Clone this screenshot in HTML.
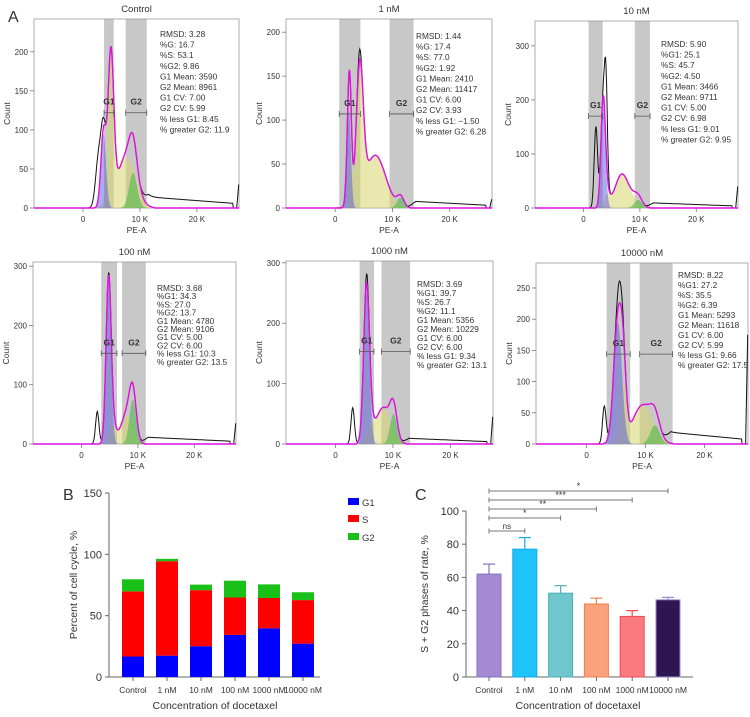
<!DOCTYPE html>
<html><head><meta charset="utf-8"><style>
body{margin:0;background:#fff}
svg{display:block;font-family:"Liberation Sans",Arial,sans-serif}
</style></head><body>
<svg id="fig" width="750" height="717" viewBox="0 0 750 717" xmlns="http://www.w3.org/2000/svg"></svg>
<script>
// ---------- Panel A histogram data (fit parameters, kilo-units) ----------
const histTitles=["Control","1 nM","10 nM","100 nM","1000 nM","10000 nM"];
const yMaxes=[242,215,346,307,303,290];
const yTickSets=[[0,50,100,150,200],[0,50,100,150,200],[0,100,200,300],[0,100,200,300],[0,100,200,300],[0,50,100,150,200,250]];
const g1Mean=[3.6,2.4,3.5,4.8,5.4,5.3], g1H=[95,110,200,270,250,195], g1Sd=[0.45,0.35,0.4,0.45,0.5,0.7];
const s1Mean=[4.9,4.3,4.2,8.0,8.3,6.2], s1H=[190,150,20,50,60,90], s1Sd=[0.5,0.6,0.5,1.0,1.3,0.5];
const s2Mean=[7.6,7.0,6.8,5.5,6.0,9.5], s2H=[65,60,62,30,20,62], s2Sd=[1.6,1.8,1.2,0.6,0.6,1.7];
const s3Mean=[0,2.6,9.0,0,0,0], s3H=[0,50,10,0,0,0], s3Sd=[1,0.3,1.0,1,1,1];
const g2Mean=[8.8,11.4,9.7,9.1,10.1,11.6], g2H=[45,12,15,75,50,30], g2Sd=[0.7,0.6,0.7,0.6,0.6,0.8];
const debMean=[2.7,2.6,2.2,2.8,3.0,3.0], debH=[60,0,150,55,60,60], debSd=[0.5,0.3,0.3,0.3,0.3,0.3];
const bxMean=[4.8,4.2,4.0,5.0,5.5,5.6], bxH=[0,12,150,5,15,35], bxSd=[0.3,0.3,0.25,0.3,0.3,0.5];
const tailH=[15,8,10,12,10,20], spikeH=[30,10,40,35,45,175];
const gateG1=[[3.7,5.4],[0.7,4.4],[0.9,3.4],[3.5,6.3],[4.2,6.7],[3.4,7.4]];
const gateG2=[[7.5,11.2],[9.5,13.7],[9.1,11.8],[7.2,11.4],[8.0,13.0],[9.0,14.6]];
const bracketY=[122,107,170,153,153,144];
const statLines=[
["RMSD: 3.28","%G: 16.7","%S: 53.1","%G2: 9.86","G1 Mean: 3590","G2 Mean: 8961","G1 CV: 7.00","G2 CV: 5.99","% less G1: 8.45","% greater G2: 11.9"],
["RMSD: 1.44","%G: 17.4","%S: 77.0","%G2: 1.92","G1 Mean: 2410","G2 Mean: 11417","G1 CV: 6.00","G2 CV: 3.93","% less G1: \u22121.50","% greater G2: 6.28"],
["RMSD: 5.90","%G1: 25.1","%S: 45.7","%G2: 4.50","G1 Mean: 3466","G2 Mean: 9711","G1 CV: 5.00","G2 CV: 6.98","% less G1: 9.01","% greater G2: 9.95"],
["RMSD: 3.68","%G1: 34.3","%S: 27.0","%G2: 13.7","G1 Mean: 4780","G2 Mean: 9106","G1 CV: 5.00","G2 CV: 6.00","% less G1: 10.3","% greater G2: 13.5"],
["RMSD: 3.69","%G1: 39.7","%S: 26.7","%G2: 11.1","G1 Mean: 5356","G2 Mean: 10229","G1 CV: 6.00","G2 CV: 6.00","% less G1: 9.34","% greater G2: 13.1"],
["RMSD: 8.22","%G1: 27.2","%S: 35.5","%G2: 6.39","G1 Mean: 5293","G2 Mean: 11618","G1 CV: 6.00","G2 CV: 5.99","% less G1: 9.66","% greater G2: 17.5"]];
// layout (not data)
const frames=[[34,19,239,208],[286,19,492,208],[535,21,738,208],[33,262,236,444],[286,261,493,444],[536,263,748,444]];
const statPos=[[160,37,10.6],[416,39,10.6],[661,47,10.6],[157,291,8.2],[417,287,9],[678,278,10]];

// ---------- Panel B ----------
const catsB=["Control","1 nM","10 nM","100 nM","1000 nM","10000 nM"];
const g1Pct=[16.7,17.4,25.1,34.3,39.7,27.2];
const sPct=[53.1,77.0,45.7,30.5,24.7,35.5];
const g2Pct=[9.86,1.92,4.50,13.7,11.1,6.39];
const ticksB=[0,50,100,150];
// ---------- Panel C ----------
const catsC=["Control","1 nM","10 nM","100 nM","1000 nM","10000 nM"];
const rateC=[62,77,50.5,44,36.5,46.5];
const errC=[6,7,4.5,3.5,3.5,1.5];
const ticksC=[0,20,40,60,80,100];
const sigFrom=[0,0,0,0,0], sigTo=[1,2,3,4,5], sigLabel=["ns","*","**","***","*"];

const NS="http://www.w3.org/2000/svg";
const svg=document.getElementById('fig');
function mk(tag,attrs,parent,name,inter){const e=document.createElementNS(NS,tag);for(const k in attrs)e.setAttribute(k,attrs[k]);


(parent||svg).appendChild(e);return e;}
function txt(x,y,s,size,anchor,parent,name,extra){const t=mk('text',Object.assign({x:x,y:y,'font-size':size,'text-anchor':anchor||'start',fill:'#333'},extra||{}),parent,name,false);t.textContent=s;return t;}
function gauss(x,m,h,sd){return h*Math.exp(-((x-m)*(x-m))/(2*sd*sd));}

txt(8,22,"A",16,'start',svg,'panel-a-label');
const XMIN=-8.6,XMAX=27.4;
for(let p=0;p<6;p++){
  const g=mk('g',{},svg,'histogram-'+histTitles[p].replace(/ /g,'-').toLowerCase(),false);
  const [L,T,R,B]=frames[p];
  const xs=v=>L+(v-XMIN)/(XMAX-XMIN)*(R-L);
  const ys=v=>B-v/yMaxes[p]*(B-T);
  [gateG1[p],gateG2[p]].forEach((gt,i)=>{
    mk('rect',{x:xs(gt[0]),y:T,width:xs(gt[1])-xs(gt[0]),height:B-T,fill:'#c8c8c8'},g,i?'g2-gate-band':'g1-gate-band',false);
  });
  mk('rect',{x:L,y:T,width:R-L,height:B-T,fill:'none',stroke:'#999','stroke-width':0.8},g,'plot-frame',false);
  const blue=[],yel=[],grn=[],mag=[],blk=[];
  for(let k=0;k<=360;k++){
    const v=XMIN+k*0.1;
    const b=gauss(v,g1Mean[p],g1H[p],g1Sd[p]);
    const s=gauss(v,s1Mean[p],s1H[p],s1Sd[p])+gauss(v,s2Mean[p],s2H[p],s2Sd[p])+(s3H[p]?gauss(v,s3Mean[p],s3H[p],s3Sd[p]):0);
    const gr=gauss(v,g2Mean[p],g2H[p],g2Sd[p]);
    const fit=b+s+gr;
    let tail=0;const ts=g2Mean[p]+1.2;
    if(v>ts&&v<26.3){const kk=Math.min(1,(v-ts)/1.5);tail=tailH[p]*kk*(1-0.6*(v-ts)/(26.3-ts));}
    let bk=fit+gauss(v,debMean[p],debH[p],debSd[p])+gauss(v,bxMean[p],bxH[p],bxSd[p])+tail;
    if(v<0)bk=0;
    blue.push([v,b]);yel.push([v,s]);grn.push([v,gr]);mag.push([v,fit>0.5?fit:0]);blk.push([v,bk]);
  }
  const area=arr=>'M'+xs(XMIN)+','+ys(0)+arr.map(a=>'L'+xs(a[0]).toFixed(1)+','+ys(Math.min(a[1],yMaxes[p])).toFixed(1)).join('')+'L'+xs(XMAX)+','+ys(0)+'Z';
  const line=arr=>'M'+arr.map(a=>xs(a[0]).toFixed(1)+','+ys(Math.min(a[1],yMaxes[p])).toFixed(1)).join('L');
  mk('path',{d:area(yel),fill:'rgba(215,215,110,0.55)'},g,'s-phase-area',false);
  mk('path',{d:area(blue),fill:'rgba(90,90,220,0.5)'},g,'g1-phase-area',false);
  mk('path',{d:area(grn),fill:'rgba(70,180,70,0.55)'},g,'g2-phase-area',false);
  const bl=blk.slice();bl.push([27.0,0]);bl.push([27.35,spikeH[p]]);
  mk('path',{d:line(bl),fill:'none',stroke:'#111','stroke-width':1},g,'data-histogram-line',false);
  mk('path',{d:line(mag),fill:'none',stroke:'#e010e0','stroke-width':1.4},g,'fit-line',false);
  [gateG1[p],gateG2[p]].forEach((gt,i)=>{
    const by=ys(bracketY[p]);
    mk('path',{d:`M${xs(gt[0])},${by-3}V${by+3}M${xs(gt[0])},${by}H${xs(gt[1])}M${xs(gt[1])},${by-3}V${by+3}`,stroke:'#555','stroke-width':0.8,fill:'none'},g,i?'g2-bracket':'g1-bracket',false);
    txt((xs(gt[0])+xs(gt[1]))/2,by-8,i?'G2':'G1',8.5,'middle',g,i?'g2-label':'g1-label',{'font-weight':'bold'});
  });
  yTickSets[p].forEach(t=>{mk('line',{x1:L-4,x2:L,y1:ys(t),y2:ys(t),stroke:'#777','stroke-width':0.8},g,'y-tick',false);
    txt(L-6,ys(t)+3,String(t),8,'end',g,'y-tick-label');});
  [[0,'0'],[10,'10 K'],[20,'20 K']].forEach(t=>{mk('line',{x1:xs(t[0]),x2:xs(t[0]),y1:B,y2:B+4,stroke:'#777','stroke-width':0.8},g,'x-tick',false);
    txt(xs(t[0]),B+14,t[1],8,'middle',g,'x-tick-label');});
  txt((L+R)/2,T-7,histTitles[p],9.5,'middle',g,'histogram-title');
  txt((L+R)/2,B+25,'PE-A',8.5,'middle',g,'x-axis-title');
  txt(L-24,(T+B)/2,'Count',8.5,'middle',g,'y-axis-title',{transform:`rotate(-90 ${L-24} ${(T+B)/2})`});
  const [sx,sy,sl]=statPos[p];
  statLines[p].forEach((s,i)=>txt(sx,sy+i*sl,s,8.3,'start',g,'stat-line'));
}

// ---------- Panel B ----------
(function(){
  const g=mk('g',{},svg,'panel-b-stacked-bar-chart',false);
  const X0=109,Y0=677,YT=493;
  const y=v=>Y0-v/150*(Y0-YT);
  const xc=i=>133+i*34;
  txt(63,500,'B',16,'start',g,'panel-b-label');
  mk('line',{x1:X0,x2:X0,y1:YT,y2:Y0,stroke:'#666'},g,'y-axis',false);
  mk('line',{x1:X0,x2:320,y1:Y0,y2:Y0,stroke:'#666'},g,'x-axis',false);
  ticksB.forEach(t=>{mk('line',{x1:X0-4,x2:X0,y1:y(t),y2:y(t),stroke:'#666'},g,'y-tick',false);txt(X0-7,y(t)+4,String(t),11,'end',g,'y-tick-label');});
  catsB.forEach((c,i)=>{
    const w=22,x=xc(i)-w/2;
    mk('rect',{x:x,y:y(g1Pct[i]),width:w,height:y(0)-y(g1Pct[i]),fill:'#0000ff'},g,'bar-g1-'+i,false);
    mk('rect',{x:x,y:y(g1Pct[i]+sPct[i]),width:w,height:y(g1Pct[i])-y(g1Pct[i]+sPct[i]),fill:'#ff0000'},g,'bar-s-'+i,false);
    mk('rect',{x:x,y:y(g1Pct[i]+sPct[i]+g2Pct[i]),width:w,height:y(g1Pct[i]+sPct[i])-y(g1Pct[i]+sPct[i]+g2Pct[i]),fill:'#18c018'},g,'bar-g2-'+i,false);
    mk('line',{x1:xc(i),x2:xc(i),y1:Y0,y2:Y0+4,stroke:'#666'},g,'x-tick',false);
    txt(xc(i),693,c,8.5,'middle',g,'x-tick-label');
  });
  txt(215,709,'Concentration of docetaxel',10.5,'middle',g,'x-axis-title');
  txt(77,585,'Percent of cell cycle, %',10.5,'middle',g,'y-axis-title',{transform:'rotate(-90 77 585)'});
  [['G1','#0000ff',502],['S','#ff0000',519],['G2','#18c018',537]].forEach(l=>{
    mk('rect',{x:348,y:l[2]-4,width:11,height:7,fill:l[1]},g,'legend-swatch-'+l[0].toLowerCase(),false);
    txt(362,l[2]+4,l[0],9.5,'start',g,'legend-label-'+l[0].toLowerCase());
  });
})();

// ---------- Panel C ----------
(function(){
  const g=mk('g',{},svg,'panel-c-bar-chart',false);
  const X0=466,Y0=677,YT=511;
  const y=v=>Y0-v/100*(Y0-YT);
  const xc=i=>489+i*35.8;
  const fills=['#a38ad2','#1fc3fb','#6fc6cd','#faa27c','#fa7b7f','#2d1652'];
  const strokes=['#8870c0','#10a8e8','#4fb0b8','#f08050','#f04850','#9a8ad0'];
  txt(415,500,'C',16,'start',g,'panel-c-label');
  mk('line',{x1:X0,x2:X0,y1:YT,y2:Y0,stroke:'#666'},g,'y-axis',false);
  mk('line',{x1:X0,x2:693,y1:Y0,y2:Y0,stroke:'#666'},g,'x-axis',false);
  ticksC.forEach(t=>{mk('line',{x1:X0-4,x2:X0,y1:y(t),y2:y(t),stroke:'#666'},g,'y-tick',false);txt(X0-7,y(t)+4,String(t),11,'end',g,'y-tick-label');});
  catsC.forEach((c,i)=>{
    const w=24,x=xc(i)-w/2;
    mk('line',{x1:xc(i),x2:xc(i),y1:y(rateC[i]),y2:y(rateC[i]+errC[i]),stroke:strokes[i],'stroke-width':1.2},g,'error-bar-'+i,false);
    mk('line',{x1:xc(i)-6,x2:xc(i)+6,y1:y(rateC[i]+errC[i]),y2:y(rateC[i]+errC[i]),stroke:strokes[i],'stroke-width':1.2},g,'error-cap-'+i,false);
    mk('rect',{x:x,y:y(rateC[i]),width:w,height:y(0)-y(rateC[i]),fill:fills[i],stroke:strokes[i],'stroke-width':1},g,'bar-'+i,false);
    mk('line',{x1:xc(i),x2:xc(i),y1:Y0,y2:Y0+4,stroke:'#666'},g,'x-tick',false);
    txt(xc(i),693,c,8.5,'middle',g,'x-tick-label');
  });
  const sigY=[531,518,509,500,491];
  sigLabel.forEach((s,k)=>{
    const a=xc(sigFrom[k]),b=xc(sigTo[k]),yy=sigY[k];
    mk('path',{d:`M${a},${yy-2.5}V${yy+2.5}M${a},${yy}H${b}M${b},${yy-2.5}V${yy+2.5}`,stroke:'#777','stroke-width':1,fill:'none'},g,'significance-bracket',false);
    txt((a+b)/2,yy-2,s,s==='ns'?8:9,'middle',g,'significance-label');
  });
  txt(578,709,'Concentration of docetaxel',10.5,'middle',g,'x-axis-title');
  txt(428,594,'S + G2 phases of rate, %',10.5,'middle',g,'y-axis-title',{transform:'rotate(-90 428 594)'});
})();
</script>
</body></html>
